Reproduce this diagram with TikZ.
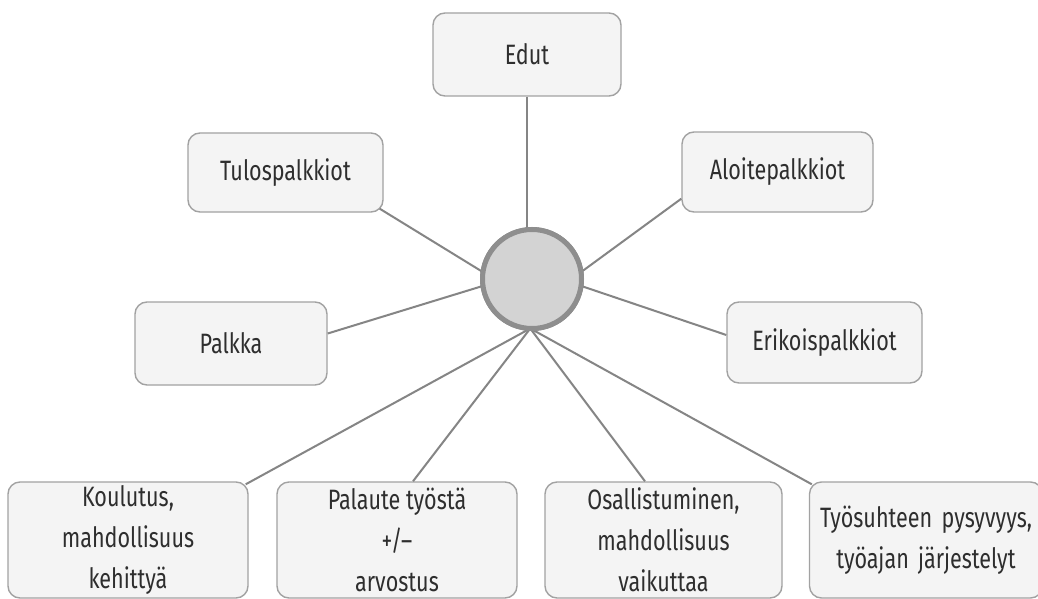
\documentclass[tikz,border=0pt]{standalone}
\usepackage{fontspec}
\setmainfont{Fira Sans}[FakeStretch=0.77]
\definecolor{boxfill}{HTML}{F4F4F4}
\definecolor{boxline}{HTML}{A2A2A2}
\definecolor{conn}{HTML}{858585}
\definecolor{txt}{HTML}{2E2E2E}
\definecolor{circfill}{HTML}{D3D3D3}
\definecolor{circline}{HTML}{8E8E8E}
\begin{document}
\begin{tikzpicture}[x=1pt,y=-1pt,
  box/.style={draw=boxline,fill=boxfill,line width=1.4pt,rounded corners=12pt,
    inner sep=0pt,align=center,text=txt,font=\fontsize{28}{41}\selectfont},
  wire/.style={draw=conn,line width=2pt},
  hub/.style={circle,draw=circline,fill=circfill,line width=5pt,inner sep=0pt,
    minimum size=99pt,outer sep=0pt}]
\useasboundingbox (0,0) rectangle (1038,599);
\clip (0,0) rectangle (1038,599);
\fill[white] (0,0) rectangle (1038,599);
% boxes
\node[box,minimum width=188pt,minimum height=83pt] (edut) at (527,54.5) {Edut};
\node[box,minimum width=195pt,minimum height=79pt] (tulos) at (285.5,172.5) {Tulospalkkiot};
\node[box,minimum width=191pt,minimum height=80pt] (aloite) at (777.5,172) {Aloitepalkkiot};
\node[box,minimum width=192pt,minimum height=83pt] (palkka) at (231,343.5) {Palkka};
\node[box,minimum width=195pt,minimum height=81pt] (erik) at (824.5,342.5) {Erikoispalkkiot};
\node[box,minimum width=240pt,minimum height=116pt] (koul) at (128,540) {Koulutus,\\mahdollisuus\\kehittyä};
\node[box,minimum width=240pt,minimum height=116pt] (pal) at (397,540) {Palaute työstä\\+/--\\arvostus};
\node[box,minimum width=237pt,minimum height=116pt] (osal) at (663.5,540) {Osallistuminen,\\mahdollisuus\\vaikuttaa};
\node[box,minimum width=233pt,minimum height=116pt,text width=233pt] (tyo) at (926,540) {Työsuhteen pysyvyys,\\työajan järjestelyt};
% hub
\node[hub] (c) at (532,279) {};
% connectors
\draw[wire] (edut.south) -- (edut.south |- c.north);
\draw[wire] ([xshift=-4pt,yshift=4pt]tulos.south east) -- (c.172);
\draw[wire] ([yshift=10pt]palkka.east) -- (c.188);
\draw[wire] ([yshift=14pt]aloite.south west) -- (c.8);
\draw[wire] ([yshift=7.5pt]erik.west) -- (c.352);
\draw[wire] ([xshift=-3pt,yshift=-3pt]koul.north east) -- (c.268);
\draw[wire] ([xshift=16pt]pal.north) -- (c.268);
\draw[wire] ([xshift=-18.5pt]osal.north) -- (c.268);
\draw[wire] ([xshift=3pt,yshift=-3pt]tyo.north west) -- (c.268);
\node[hub] at (c.center) {};
\end{tikzpicture}
\end{document}
